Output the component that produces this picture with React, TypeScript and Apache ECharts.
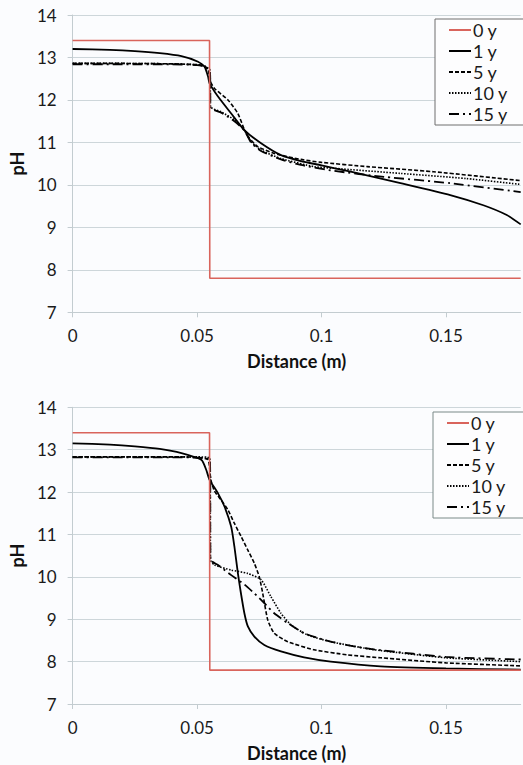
import React, { useEffect, useRef } from "react";
import * as echarts from "echarts";

// ---------- data ----------
const seriesNames = ["0 y", "1 y", "5 y", "10 y", "15 y"];
const xTicks = [0, 0.05, 0.1, 0.15];
const yTicks = [7, 8, 9, 10, 11, 12, 13, 14];

// Top chart
const topY0 = [[0, 13.4], [0.055, 13.4], [0.0551, 7.8], [0.18, 7.8]];
const topY1 = [
  [0, 13.2], [0.015, 13.18], [0.025, 13.15], [0.035, 13.1], [0.0437, 13.03], [0.0504, 12.9],
  [0.053, 12.78], [0.0544, 12.55], [0.055, 12.39], [0.0584, 12.08], [0.0637, 11.68],
  [0.069, 11.29], [0.0757, 10.98], [0.0837, 10.7], [0.0917, 10.56], [0.1, 10.46],
  [0.1117, 10.31], [0.1317, 10.04], [0.1517, 9.76], [0.165, 9.52], [0.1744, 9.29], [0.18, 9.07],
];
const topY5 = [
  [0, 12.86], [0.02, 12.86], [0.04, 12.85], [0.05, 12.83], [0.053, 12.8], [0.0545, 12.7],
  [0.0552, 12.45], [0.057, 12.27], [0.0624, 12.0], [0.0664, 11.68], [0.069, 11.3],
  [0.071, 11.1], [0.0744, 10.9], [0.081, 10.74], [0.0917, 10.6], [0.1, 10.53],
  [0.1184, 10.43], [0.145, 10.31], [0.18, 10.1],
];
const topY10 = [
  [0, 12.86], [0.02, 12.86], [0.04, 12.85], [0.05, 12.83], [0.053, 12.8], [0.0552, 12.7],
  [0.0554, 11.84], [0.0597, 11.72], [0.065, 11.53], [0.069, 11.29], [0.0717, 11.02],
  [0.0757, 10.82], [0.0837, 10.62], [0.097, 10.43], [0.105, 10.39], [0.1317, 10.27],
  [0.158, 10.15], [0.18, 10.01],
];
const topY15 = [
  [0, 12.84], [0.02, 12.84], [0.04, 12.84], [0.05, 12.82], [0.053, 12.78], [0.0552, 12.65],
  [0.0554, 11.82], [0.0597, 11.7], [0.065, 11.5], [0.069, 11.28], [0.0717, 11.0],
  [0.0757, 10.8], [0.0837, 10.6], [0.0917, 10.47], [0.105, 10.33], [0.125, 10.19],
  [0.1517, 10.04], [0.18, 9.83],
];

// Bottom chart
const botY0 = [[0, 13.4], [0.055, 13.4], [0.0551, 7.8], [0.18, 7.8]];
const botY1 = [
  [0, 13.15], [0.015, 13.12], [0.025, 13.08], [0.035, 13.02], [0.0437, 12.92], [0.0517, 12.76],
  [0.0537, 12.52], [0.055, 12.29], [0.0584, 11.97], [0.061, 11.66], [0.0637, 11.18],
  [0.065, 10.71], [0.0664, 10.08], [0.0674, 9.69], [0.069, 9.14], [0.0704, 8.83],
  [0.073, 8.59], [0.077, 8.39], [0.0837, 8.24], [0.093, 8.1], [0.1037, 8.0],
  [0.1237, 7.89], [0.15, 7.84], [0.18, 7.81],
];
const botY5 = [
  [0, 12.83], [0.02, 12.83], [0.04, 12.83], [0.05, 12.82], [0.0544, 12.76], [0.0555, 12.3],
  [0.057, 12.02], [0.0597, 11.81], [0.0624, 11.58], [0.065, 11.26], [0.0677, 10.95],
  [0.0704, 10.63], [0.073, 10.32], [0.075, 10.0], [0.0764, 9.6], [0.0784, 8.98],
  [0.081, 8.67], [0.0864, 8.47], [0.097, 8.28], [0.1104, 8.16], [0.1237, 8.09],
  [0.15, 7.97], [0.18, 7.9],
];
const botY10 = [
  [0, 12.83], [0.02, 12.83], [0.04, 12.83], [0.05, 12.83], [0.0552, 12.8], [0.0554, 10.4],
  [0.057, 10.28], [0.0637, 10.16], [0.0704, 10.08], [0.0757, 9.93], [0.0797, 9.53],
  [0.0837, 9.14], [0.0877, 8.87], [0.0943, 8.63], [0.1037, 8.47], [0.117, 8.32],
  [0.1237, 8.26], [0.15, 8.09], [0.18, 8.0],
];
const botY15 = [
  [0, 12.82], [0.02, 12.82], [0.04, 12.82], [0.05, 12.81], [0.0552, 12.75], [0.0554, 10.4],
  [0.0584, 10.28], [0.0637, 10.04], [0.069, 9.82], [0.073, 9.61], [0.077, 9.38],
  [0.081, 9.14], [0.0864, 8.91], [0.093, 8.67], [0.1037, 8.47], [0.117, 8.32],
  [0.1237, 8.27], [0.15, 8.11], [0.18, 8.05],
];

const topData = [topY0, topY1, topY5, topY10, topY15];
const botData = [botY0, botY1, botY5, botY10, botY15];

// ---------- styles ----------
const FONT = "Lato";
const lineStyles: any[] = [
  { color: "#d9645c", width: 1.6, type: "solid" },
  { color: "#000", width: 1.8, type: "solid" },
  { color: "#000", width: 1.6, type: [4, 2] },
  { color: "#000", width: 1.6, type: [1.5, 1.5] },
  { color: "#000", width: 1.8, type: [10, 4, 2, 4] },
];

export default function App() {
  const ref = useRef<HTMLDivElement>(null);
  useEffect(() => {
    if (!ref.current) return;
    const chart = echarts.init(ref.current, null, { renderer: "svg" });
    const gridDefs = [
      { left: 70.7, top: 15, width: 450, height: 297.3 },
      { left: 70.7, top: 407.3, width: 450, height: 296.7 },
    ];
    const xAxis = gridDefs.map((_, i) => ({
      type: "value",
      gridIndex: i,
      min: xTicks[0],
      max: 0.18,
      interval: 0.05,
      name: "Distance (m)",
      nameLocation: "middle",
      nameGap: 40,
      nameTextStyle: { fontFamily: FONT, fontSize: 18, fontWeight: "bold", color: "#111" },
      axisLine: { show: true, lineStyle: { color: "#c3ccd0", width: 1 } },
      axisTick: { show: true, length: 5, lineStyle: { color: "#c3ccd0" } },
      splitLine: { show: false },
      axisLabel: {
        showMaxLabel: false,
        margin: 15,
        fontFamily: FONT,
        fontSize: 17,
        color: "#1a1a1a",
        formatter: (v: number) => String(Math.round(v * 100) / 100),
      },
    }));
    const yAxis = gridDefs.map((_, i) => ({
      type: "value",
      gridIndex: i,
      min: yTicks[0],
      max: yTicks[yTicks.length - 1],
      interval: 1,
      name: "pH",
      nameLocation: "middle",
      nameGap: 33,
      nameTextStyle: { fontFamily: FONT, fontSize: 18, fontWeight: "bold", color: "#111" },
      axisLine: { show: true, lineStyle: { color: "#c3ccd0", width: 1 } },
      axisTick: { show: true, length: 5, lineStyle: { color: "#c3ccd0" } },
      splitLine: { show: true, lineStyle: { color: "#cdd6da", width: 1 } },
      axisLabel: { margin: 16, fontFamily: FONT, fontSize: 17, color: "#1a1a1a" },
    }));
    const series: any[] = [];
    [topData, botData].forEach((dataSet, gi) => {
      dataSet.forEach((d, si) => {
        series.push({
          type: "line",
          name: seriesNames[si],
          xAxisIndex: gi,
          yAxisIndex: gi,
          data: d,
          symbol: "none",
          smooth: si === 0 ? false : 0.2,
          lineStyle: lineStyles[si],
          itemStyle: { color: lineStyles[si].color },
          z: si === 0 ? 3 : 2,
        });
      });
    });
    const legendBase = (top: number, left: number, border: string) => ({
      orient: "vertical",
      left,
      top,
      data: seriesNames,
      itemWidth: 22,
      itemHeight: 14,
      itemGap: 3,
      padding: [2, 20, 2, 13],
      borderColor: border,
      borderWidth: 1,
      backgroundColor: "#fdfdfe",
      selectedMode: false,
      itemStyle: { opacity: 0, borderWidth: 0 },
      textStyle: {
        fontFamily: FONT,
        fontSize: 18,
        color: "#1a1a1a",
        padding: [0, 0, 0, -3],
      },
    });
    chart.setOption({
      animation: false,
      backgroundColor: "#fbfcfe",
      grid: gridDefs,
      xAxis,
      yAxis,
      legend: [legendBase(19, 435, "#6e6e6e"), legendBase(412, 433, "#7a8a88")],
      series,
    });
    return () => chart.dispose();
  }, []);
  return (
    <div
      ref={ref}
      style={{ position: "absolute", left: 0, top: 0, width: 523, height: 765 }}
    />
  );
}
